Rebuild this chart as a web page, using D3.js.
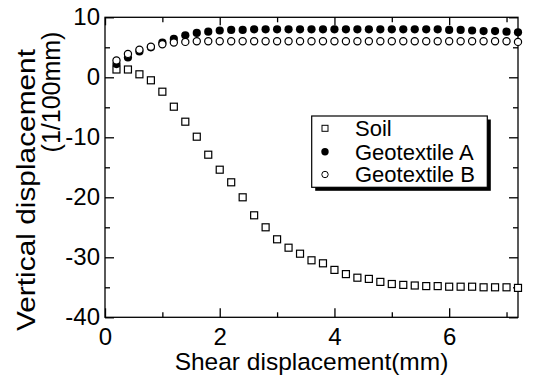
<!DOCTYPE html>
<html>
<head>
<meta charset="utf-8">
<script src="https://cdn.jsdelivr.net/npm/d3@7"></script>
<style>
  body { margin: 0; background: #fff; }
  svg { display: block; }
  text { font-family: "Liberation Sans", Arial, Helvetica, sans-serif; fill: #000; }
</style>
</head>
<body>
<svg id="chart" width="539" height="376"></svg>
<script>
// Shear displacement (mm) at each reading
const shear = [0.2, 0.4, 0.6, 0.8, 1.0, 1.2, 1.4, 1.6, 1.8, 2.0, 2.2, 2.4,
               2.6, 2.8, 3.0, 3.2, 3.4, 3.6, 3.8, 4.0, 4.2, 4.4, 4.6, 4.8,
               5.0, 5.2, 5.4, 5.6, 5.8, 6.0, 6.2, 6.4, 6.6, 6.8, 7.0, 7.2];

// Vertical displacement (1/100 mm)
const soil = [1.3, 1.3, 0.5, -0.5, -2.4, -4.9, -7.4, -9.9, -12.9, -15.4, -17.5, -20.0,
              -23.0, -25.0, -27.0, -28.4, -29.4, -30.5, -31.0, -32.1, -32.8, -33.4, -33.6, -34.1,
              -34.45, -34.6, -34.7, -34.8, -34.8, -34.9, -34.9, -34.9, -35.0, -35.0, -35.0, -35.1];
const geotextileA = [2.2, 3.3, 4.3, 5.0, 5.8, 6.4, 7.0, 7.4, 7.6, 7.8, 7.9, 7.9,
                     8.0, 8.0, 8.0, 8.0, 8.0, 8.0, 8.0, 8.0, 8.0, 8.0, 8.0, 8.0,
                     8.0, 8.0, 8.0, 8.0, 8.0, 7.9, 7.9, 7.8, 7.7, 7.7, 7.6, 7.5];
const geotextileB = [2.8, 3.9, 4.6, 5.1, 5.5, 5.8, 5.9, 6.0, 6.0, 6.0, 6.0, 6.0,
                     6.0, 6.0, 6.0, 6.0, 6.0, 6.0, 6.0, 6.0, 6.0, 6.0, 6.0, 6.0,
                     6.0, 6.0, 6.0, 6.0, 6.0, 6.0, 6.0, 6.0, 6.0, 6.0, 6.0, 5.9];

const seriesNames = ["Soil", "Geotextile A", "Geotextile B"];

const xMajorTicks = [0, 2, 4, 6];
const xMinorTicks = [1, 3, 5, 7];
const yMajorTicks = [-40, -30, -20, -10, 0, 10];
const yMinorTicks = [-35, -25, -15, -5, 5];

const xTitle = "Shear displacement(mm)";
const yTitleLines = ["Vertical displacement", "(1/100mm)"];

// ---- layout ----
const plot = { left: 105, right: 518, top: 17.3, bottom: 317.3 };
const svg = d3.select("#chart");

const x = d3.scaleLinear().domain([0, 7.2]).range([plot.left, plot.right]);
const y = d3.scaleLinear().domain([-40, 10]).range([plot.bottom, plot.top]);

const tickFont = 24;

// frame
svg.append("rect")
  .attr("x", plot.left).attr("y", plot.top)
  .attr("width", plot.right - plot.left).attr("height", plot.bottom - plot.top)
  .attr("fill", "none").attr("stroke", "#000").attr("stroke-width", 1.3);

function styleAxis(g) {
  g.select(".domain").remove();
  g.selectAll(".tick line").attr("stroke", "#000").attr("stroke-width", 1.3);
  g.selectAll(".tick text").attr("font-size", tickFont).attr("fill", "#000")
    .style("font-family", '"Liberation Sans", Arial, sans-serif');
}

// bottom axis (inward ticks with labels)
svg.append("g").attr("transform", `translate(0,${plot.bottom})`)
  .call(d3.axisBottom(x).tickValues(xMajorTicks).tickSize(-9).tickPadding(11).tickFormat(d3.format("d")))
  .call(styleAxis);
svg.append("g").attr("transform", `translate(0,${plot.bottom})`)
  .call(d3.axisBottom(x).tickValues(xMinorTicks).tickSize(-5).tickFormat(""))
  .call(styleAxis);

// top axis (ticks only)
svg.append("g").attr("transform", `translate(0,${plot.top})`)
  .call(d3.axisTop(x).tickValues(xMajorTicks).tickSize(-8).tickFormat(""))
  .call(styleAxis);
svg.append("g").attr("transform", `translate(0,${plot.top})`)
  .call(d3.axisTop(x).tickValues(xMinorTicks).tickSize(-5).tickFormat(""))
  .call(styleAxis);

// left axis
svg.append("g").attr("transform", `translate(${plot.left},0)`)
  .call(d3.axisLeft(y).tickValues(yMajorTicks).tickSize(-9).tickPadding(5).tickFormat(d3.format("d")))
  .call(styleAxis);
svg.append("g").attr("transform", `translate(${plot.left},0)`)
  .call(d3.axisLeft(y).tickValues(yMinorTicks).tickSize(-5).tickFormat(""))
  .call(styleAxis);

// right axis (ticks only)
svg.append("g").attr("transform", `translate(${plot.right},0)`)
  .call(d3.axisRight(y).tickValues(yMajorTicks).tickSize(-9).tickFormat(""))
  .call(styleAxis);
svg.append("g").attr("transform", `translate(${plot.right},0)`)
  .call(d3.axisRight(y).tickValues(yMinorTicks).tickSize(-5).tickFormat(""))
  .call(styleAxis);

// hyphen-minus for negative labels
svg.selectAll(".tick text").text(function() { return this.textContent.replace("\u2212", "-"); });

// ---- markers ----
const sq = 7;
const markerStroke = 1.2;

svg.append("g").selectAll("rect").data(shear)
  .join("rect")
  .attr("x", (d) => x(d) - sq / 2)
  .attr("y", (d, i) => y(soil[i]) - sq / 2)
  .attr("width", sq).attr("height", sq)
  .attr("fill", "#fff").attr("stroke", "#000").attr("stroke-width", markerStroke);

svg.append("g").selectAll("circle").data(shear)
  .join("circle")
  .attr("cx", (d) => x(d))
  .attr("cy", (d, i) => y(geotextileA[i]))
  .attr("r", 4.1)
  .attr("fill", "#000");

svg.append("g").selectAll("circle").data(shear)
  .join("circle")
  .attr("cx", (d) => x(d))
  .attr("cy", (d, i) => y(geotextileB[i]))
  .attr("r", 3.6)
  .attr("fill", "#fff").attr("stroke", "#000").attr("stroke-width", markerStroke);

// ---- legend ----
const lg = { x: 311.7, y: 116, w: 175.6, h: 71.3, shadow: 3.5 };
const legend = svg.append("g");
legend.append("rect")
  .attr("x", lg.x + lg.shadow).attr("y", lg.y + lg.shadow)
  .attr("width", lg.w).attr("height", lg.h).attr("fill", "#000");
legend.append("rect")
  .attr("x", lg.x).attr("y", lg.y).attr("width", lg.w).attr("height", lg.h)
  .attr("fill", "#fff").attr("stroke", "#000").attr("stroke-width", 1.2);

const rowY = [128.3, 151.7, 174.5];
const mx = 325;
legend.append("rect").attr("x", mx - 3).attr("y", rowY[0] - 3).attr("width", 6).attr("height", 6)
  .attr("fill", "#fff").attr("stroke", "#000").attr("stroke-width", 1);
legend.append("circle").attr("cx", mx).attr("cy", rowY[1]).attr("r", 3.7).attr("fill", "#000");
legend.append("circle").attr("cx", mx).attr("cy", rowY[2]).attr("r", 3.2)
  .attr("fill", "#fff").attr("stroke", "#000").attr("stroke-width", 1);

legend.selectAll("text.label").data(seriesNames)
  .join("text").attr("class", "label")
  .attr("x", 355).attr("y", (d, i) => rowY[i])
  .attr("dy", "0.36em")
  .attr("font-size", 22)
  .text((d) => d);

// ---- axis titles ----
svg.append("text")
  .attr("x", (plot.left + plot.right) / 2).attr("y", 370)
  .attr("text-anchor", "middle").attr("font-size", 24.5)
  .text(xTitle);

svg.append("text")
  .attr("transform", "translate(35,190) rotate(-90)")
  .attr("text-anchor", "middle").attr("font-size", 25)
  .attr("textLength", 282).attr("lengthAdjust", "spacingAndGlyphs")
  .text(yTitleLines[0]);
svg.append("text")
  .attr("transform", "translate(60,92) rotate(-90)")
  .attr("text-anchor", "middle").attr("font-size", 25)
  .text(yTitleLines[1]);
</script>
</body>
</html>
